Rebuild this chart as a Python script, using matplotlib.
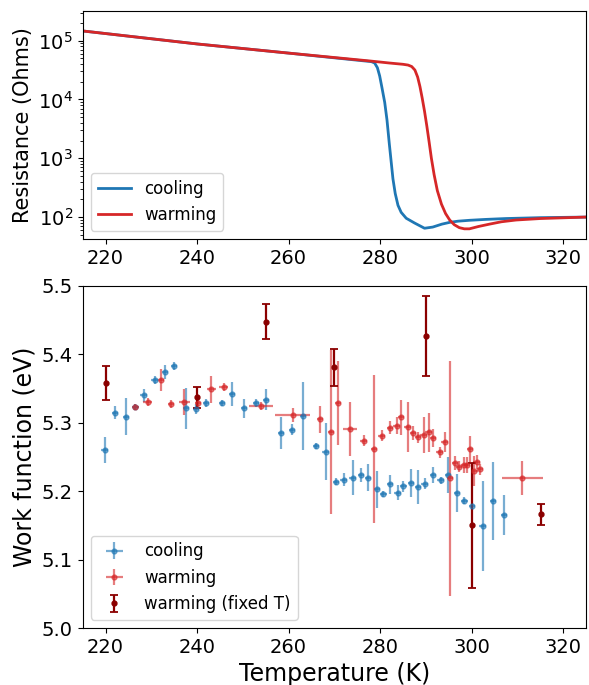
import numpy as np
import matplotlib
matplotlib.use("Agg")
import matplotlib.pyplot as plt

# ---- Resistance curves (top panel) ----
T_cool_R = [215.0, 240.0, 260.3, 278.1, 278.8, 279.4, 279.9, 280.4, 281.0, 281.5,
            282.0, 282.4, 282.8, 283.3, 283.9, 284.6, 285.7, 287.5, 289.7, 291.5,
            293.5, 295.2, 297.0, 299.5, 303.0, 307.5, 315.0, 325.0]
logR_cool = [5.165, 4.944, 4.786, 4.643, 4.62, 4.54, 4.40, 4.20, 3.95, 3.65,
             3.25, 2.95, 2.65, 2.40, 2.20, 2.08, 1.98, 1.90, 1.81, 1.83,
             1.88, 1.91, 1.93, 1.945, 1.96, 1.975, 1.99, 2.0]
T_warm_R = [215.0, 240.0, 260.3, 277.7, 282.0, 285.0, 286.1, 286.9, 287.6, 288.2,
            288.7, 289.2, 289.7, 290.2, 290.7, 291.2, 291.8, 292.5, 293.4, 294.3,
            295.2, 296.2, 297.3, 298.4, 299.5, 301.5, 303.9, 306.5, 309.7, 315.0,
            325.0]
logR_warm = [5.165, 4.944, 4.786, 4.655, 4.62, 4.598, 4.585, 4.56, 4.50, 4.38,
             4.22, 4.02, 3.80, 3.55, 3.28, 3.00, 2.72, 2.45, 2.22, 2.06,
             1.95, 1.87, 1.82, 1.80, 1.80, 1.84, 1.88, 1.92, 1.95, 1.975,
             2.0]

# ---- Work function (bottom panel) ----
T_cool = [219.8, 222.0, 224.4, 226.5, 228.3, 230.7, 233.0, 235.0, 237.6, 239.8,
          242.0, 245.4, 247.6, 250.2, 252.9, 255.1, 258.3, 260.7, 263.1, 266.0,
          268.1, 270.3, 272.0, 274.0, 275.8, 277.4, 279.3, 280.7, 282.2, 283.8,
          285.1, 286.7, 288.3, 289.7, 291.5, 293.2, 294.8, 296.8, 298.4, 300.1,
          302.4, 304.6, 307.1]
W_cool = [5.260, 5.315, 5.309, 5.323, 5.340, 5.363, 5.374, 5.383, 5.321, 5.320,
          5.329, 5.329, 5.342, 5.321, 5.329, 5.334, 5.285, 5.290, 5.310, 5.266,
          5.258, 5.214, 5.217, 5.220, 5.224, 5.220, 5.203, 5.196, 5.210, 5.198,
          5.207, 5.212, 5.206, 5.211, 5.224, 5.216, 5.224, 5.197, 5.186, 5.178,
          5.149, 5.186, 5.165]
Werr_cool = [0.019, 0.010, 0.027, 0.005, 0.010, 0.006, 0.010, 0.006, 0.030, 0.007,
             0.006, 0.005, 0.018, 0.014, 0.006, 0.016, 0.024, 0.008, 0.050, 0.005,
             0.042, 0.005, 0.010, 0.026, 0.010, 0.020, 0.027, 0.005, 0.014, 0.011,
             0.008, 0.020, 0.025, 0.008, 0.012, 0.005, 0.026, 0.028, 0.005, 0.005,
             0.066, 0.057, 0.029]
Terr_cool = [0.7] * len(T_cool)

T_warm = [226.5, 229.2, 232.1, 234.3, 237.2, 240.2, 243.1, 245.8, 254.0, 260.9,
          266.8, 269.2, 270.8, 273.4, 276.4, 278.7, 280.3, 282.1, 283.6, 284.6,
          286.0, 287.2, 288.3, 289.5, 290.6, 291.5, 293.0, 294.1, 295.3, 296.3,
          297.2, 298.4, 299.0, 299.7, 300.6, 301.1, 301.8, 311.1]
W_warm = [5.323, 5.330, 5.362, 5.327, 5.330, 5.329, 5.349, 5.352, 5.325, 5.311,
          5.305, 5.286, 5.329, 5.291, 5.274, 5.262, 5.281, 5.293, 5.296, 5.308,
          5.294, 5.285, 5.279, 5.282, 5.286, 5.278, 5.257, 5.272, 5.219, 5.241,
          5.236, 5.238, 5.238, 5.261, 5.230, 5.243, 5.232, 5.219]
Werr_warm = [0.005, 0.006, 0.016, 0.006, 0.019, 0.006, 0.020, 0.006, 0.006, 0.010,
             0.020, 0.120, 0.062, 0.040, 0.008, 0.108, 0.008, 0.010, 0.012, 0.026,
             0.036, 0.010, 0.008, 0.026, 0.029, 0.013, 0.008, 0.015, 0.172, 0.010,
             0.008, 0.012, 0.012, 0.019, 0.022, 0.010, 0.008, 0.025]
Terr_warm = [0.7, 1.0, 0.7, 0.7, 1.2, 0.7, 1.0, 1.0, 2.6, 3.8,
             0.7, 0.7, 0.7, 1.6, 0.7, 0.7, 0.7, 0.7, 0.7, 0.7,
             0.7, 0.7, 0.7, 0.7, 0.7, 0.7, 0.7, 0.7, 0.7, 0.7,
             0.7, 0.7, 0.7, 0.7, 0.7, 0.7, 0.7, 4.4]

T_fixed = [220.0, 240.0, 255.0, 270.0, 290.0, 300.1, 315.1]
W_fixed = [5.358, 5.337, 5.448, 5.381, 5.427, 5.150, 5.166]
Werr_fixed = [0.025, 0.015, 0.026, 0.027, 0.059, 0.091, 0.015]

xticks = [220, 240, 260, 280, 300, 320]
yticks_w = [5.0, 5.1, 5.2, 5.3, 5.4, 5.5]

fig = plt.figure(figsize=(5.89, 6.85), dpi=100)
ax1 = fig.add_axes([0.1404, 0.651, 0.8546, 0.333])
ax2 = fig.add_axes([0.1404, 0.0832, 0.8546, 0.4993])

ax1.plot(T_cool_R, 10 ** np.array(logR_cool), color='tab:blue', lw=2, label='cooling')
ax1.plot(T_warm_R, 10 ** np.array(logR_warm), color='tab:red', lw=2, label='warming')
ax1.set_yscale('log')
ax1.set_xlim(215, 325)
ax1.set_ylim(10 ** 1.626, 10 ** 5.505)
ax1.set_xticks(xticks)
ax1.set_ylabel('Resistance (Ohms)', fontsize=15)
ax1.tick_params(labelsize=14)
ax1.legend(loc='lower left', fontsize=12)

ax2.errorbar(T_cool, W_cool, yerr=Werr_cool, xerr=Terr_cool, fmt='o', ms=3.5,
             color='tab:blue', elinewidth=1.6, alpha=0.6, label='cooling')
ax2.errorbar(T_warm, W_warm, yerr=Werr_warm, xerr=Terr_warm, fmt='o', ms=3.5,
             color='tab:red', elinewidth=1.6, alpha=0.6, label='warming')
ax2.errorbar(T_fixed, W_fixed, yerr=Werr_fixed, fmt='o', ms=3.5, color='darkred',
             elinewidth=1.6, capsize=3, capthick=1.3, label='warming (fixed T)')
ax2.set_xlim(215, 325)
ax2.set_ylim(5.0, 5.5)
ax2.set_xticks(xticks)
ax2.set_yticks(yticks_w)
ax2.set_xlabel('Temperature (K)', fontsize=17)
ax2.set_ylabel('Work function (eV)', fontsize=17)
ax2.tick_params(labelsize=14)
ax2.legend(loc='lower left', fontsize=12)

fig.savefig('out.png', dpi=100)
